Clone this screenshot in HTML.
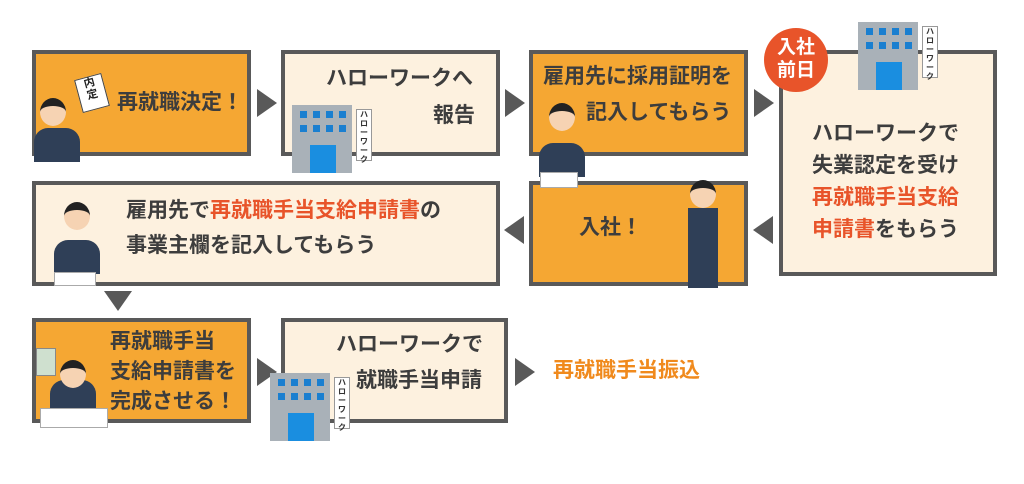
<!DOCTYPE html>
<html><head><meta charset="utf-8"><style>
body{margin:0;width:1024px;height:484px;background:#fff;position:relative;overflow:hidden;font-family:"Liberation Sans","Noto Sans CJK JP",sans-serif;font-weight:bold;color:#3d3d3d}
.b{position:absolute;box-sizing:border-box;border:4px solid #595959}
.o{background:#f5a733}.c{background:#fdf1df}
.t{position:absolute;font-size:21px;line-height:34px;white-space:nowrap}
.r{color:#e8542a}
.ar{position:absolute;width:0;height:0}
.rt{border-top:14px solid transparent;border-bottom:14px solid transparent;border-left:20px solid #595959}
.lt{border-top:14px solid transparent;border-bottom:14px solid transparent;border-right:20px solid #595959}
.dn{border-left:14px solid transparent;border-right:14px solid transparent;border-top:20px solid #595959}
.bld{position:absolute;width:62px;height:68px}
.bld .m{position:absolute;left:0;top:0;width:60px;height:68px;background:#a9b1b8}
.bld .w{position:absolute;width:7px;height:7px;background:#1a7fd0}
.bld .d{position:absolute;left:18px;top:40px;width:26px;height:28px;background:#1a8ee0}
.bld .s{position:absolute;left:64px;top:4px;width:14px;height:50px;background:#fff;border:1px solid #999;font-size:8px;line-height:9px;text-align:center;color:#333}
.head{position:absolute;width:26px;height:28px;border-radius:50%;background:#f6d3b3;border-top:8px solid #222;box-sizing:border-box}
.body{position:absolute;width:46px;height:34px;background:#2f3f57;border-radius:14px 14px 0 0}
</style></head><body>

<div class="b o" style="left:32px;top:50px;width:219px;height:106px"></div>
<div class="t" style="left:117px;top:86px">再就職決定！</div>
<div class="b c" style="left:281px;top:50px;width:219px;height:106px"></div>
<div class="t" style="left:326px;top:62px">ハローワークへ</div>
<div class="t" style="left:433px;top:99px">報告</div>
<div class="b o" style="left:529px;top:50px;width:219px;height:106px"></div>
<div class="t" style="left:543px;top:60px">雇用先に採用証明を</div>
<div class="t" style="left:586px;top:96px">記入してもらう</div>
<div class="b c" style="left:779px;top:50px;width:218px;height:226px"></div>
<div class="t" style="left:812px;top:118px;line-height:32px">ハローワークで<br>失業認定を受け<br><span class="r">再就職手当支給</span><br><span class="r">申請書</span>をもらう</div>
<div style="position:absolute;left:764px;top:28px;width:64px;height:64px;border-radius:50%;background:#e8542a;color:#fff;font-size:19px;line-height:23px;text-align:center;padding-top:8px;box-sizing:border-box">入社<br>前日</div>

<div class="b c" style="left:32px;top:181px;width:468px;height:105px"></div>
<div class="t" style="left:126px;top:194px">雇用先で<span class="r">再就職手当支給申請書</span>の</div>
<div class="t" style="left:126px;top:229px">事業主欄を記入してもらう</div>
<div class="b o" style="left:529px;top:181px;width:219px;height:105px"></div>
<div class="t" style="left:579px;top:211px">入社！</div>

<div class="b o" style="left:32px;top:318px;width:219px;height:105px"></div>
<div class="t" style="left:110px;top:327px;line-height:30px">再就職手当<br>支給申請書を<br>完成させる！</div>
<div class="b c" style="left:281px;top:318px;width:227px;height:105px"></div>
<div class="t" style="left:336px;top:328px">ハローワークで</div>
<div class="t" style="left:356px;top:364px">就職手当申請</div>
<div class="t" style="left:553px;top:354px;color:#f08a1d">再就職手当振込</div>

<div class="ar rt" style="left:257px;top:89px"></div>
<div class="ar rt" style="left:505px;top:89px"></div>
<div class="ar rt" style="left:754px;top:89px"></div>
<div class="ar lt" style="left:753px;top:216px"></div>
<div class="ar lt" style="left:504px;top:216px"></div>
<div class="ar dn" style="left:104px;top:291px"></div>
<div class="ar rt" style="left:257px;top:358px"></div>
<div class="ar rt" style="left:515px;top:358px"></div>

<div class="bld" style="left:292px;top:105px"><div class="m"></div>
<div class="w" style="left:8px;top:6px"></div><div class="w" style="left:21px;top:6px"></div><div class="w" style="left:34px;top:6px"></div><div class="w" style="left:47px;top:6px"></div>
<div class="w" style="left:8px;top:20px"></div><div class="w" style="left:21px;top:20px"></div><div class="w" style="left:34px;top:20px"></div><div class="w" style="left:47px;top:20px"></div>
<div class="d"></div><div class="s">ハローワーク</div></div>
<div class="bld" style="left:858px;top:22px"><div class="m"></div>
<div class="w" style="left:8px;top:6px"></div><div class="w" style="left:21px;top:6px"></div><div class="w" style="left:34px;top:6px"></div><div class="w" style="left:47px;top:6px"></div>
<div class="w" style="left:8px;top:20px"></div><div class="w" style="left:21px;top:20px"></div><div class="w" style="left:34px;top:20px"></div><div class="w" style="left:47px;top:20px"></div>
<div class="d"></div><div class="s">ハローワーク</div></div>
<div class="bld" style="left:270px;top:373px"><div class="m"></div>
<div class="w" style="left:8px;top:6px"></div><div class="w" style="left:21px;top:6px"></div><div class="w" style="left:34px;top:6px"></div><div class="w" style="left:47px;top:6px"></div>
<div class="w" style="left:8px;top:20px"></div><div class="w" style="left:21px;top:20px"></div><div class="w" style="left:34px;top:20px"></div><div class="w" style="left:47px;top:20px"></div>
<div class="d"></div><div class="s">ハローワーク</div></div>

<div class="body" style="left:34px;top:128px"></div><div class="head" style="left:40px;top:98px"></div>
<div style="position:absolute;left:78px;top:76px;width:26px;height:32px;background:#fff;border:1px solid #444;transform:rotate(-15deg);font-size:11px;line-height:12px;text-align:center;color:#222">内<br>定</div>
<div class="body" style="left:539px;top:143px"></div><div class="head" style="left:549px;top:103px"></div>
<div style="position:absolute;left:540px;top:172px;width:36px;height:14px;background:#fff;border:1px solid #aaa"></div>
<div class="body" style="left:54px;top:240px"></div><div class="head" style="left:64px;top:202px"></div>
<div style="position:absolute;left:54px;top:272px;width:40px;height:12px;background:#fff;border:1px solid #aaa"></div>
<div class="head" style="left:690px;top:180px"></div><div style="position:absolute;left:688px;top:208px;width:30px;height:80px;background:#2f3f57"></div>
<div class="body" style="left:50px;top:380px"></div><div class="head" style="left:60px;top:360px"></div>
<div style="position:absolute;left:40px;top:408px;width:66px;height:18px;background:#fff;border:1px solid #aaa"></div>
<div style="position:absolute;left:36px;top:348px;width:18px;height:26px;background:#cfe0cf;border:1px solid #888"></div>
</body></html>
